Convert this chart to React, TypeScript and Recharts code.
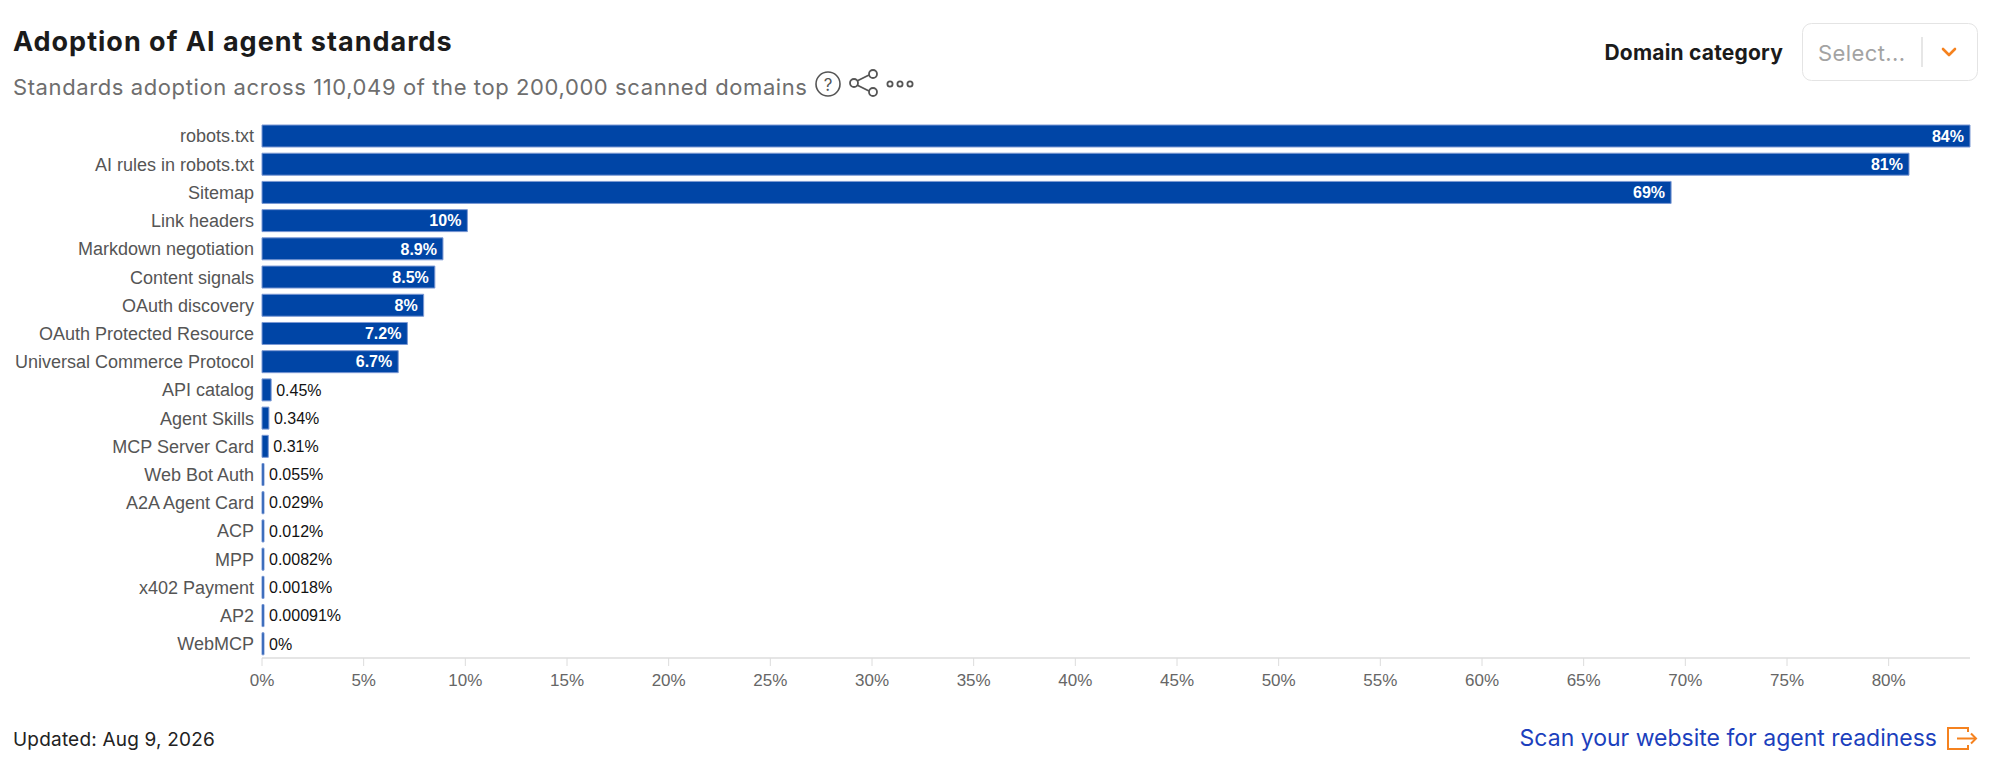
import React from 'react';
import { BarChart, Bar, XAxis, YAxis, LabelList } from 'recharts';

const STANDARDS = [
  'robots.txt',
  'AI rules in robots.txt',
  'Sitemap',
  'Link headers',
  'Markdown negotiation',
  'Content signals',
  'OAuth discovery',
  'OAuth Protected Resource',
  'Universal Commerce Protocol',
  'API catalog',
  'Agent Skills',
  'MCP Server Card',
  'Web Bot Auth',
  'A2A Agent Card',
  'ACP',
  'MPP',
  'x402 Payment',
  'AP2',
  'WebMCP',
];

// adoption share in percent
const ADOPTION = [84, 81, 69.3, 10.1, 8.9, 8.5, 7.95, 7.15, 6.7, 0.45, 0.34, 0.31, 0.055, 0.029, 0.012, 0.0082, 0.0018, 0.00091, 0];

const VALUE_LABELS = ['84%', '81%', '69%', '10%', '8.9%', '8.5%', '8%', '7.2%', '6.7%', '0.45%', '0.34%', '0.31%', '0.055%', '0.029%', '0.012%', '0.0082%', '0.0018%', '0.00091%', '0%'];

const X_TICKS = [0, 5, 10, 15, 20, 25, 30, 35, 40, 45, 50, 55, 60, 65, 70, 75, 80];

const data = STANDARDS.map((name, i) => ({ name, value: ADOPTION[i], label: VALUE_LABELS[i] }));

const CHART_FONT = '"Liberation Sans", Arial, Helvetica, sans-serif';
const UI_FONT = 'Inter, "Noto Sans", sans-serif';

const ValueLabel = (props: any) => {
  const { x, y, width, height, value } = props;
  const inside = width > 60;
  return (
    <text
      x={inside ? x + width - 6 : x + width + 5}
      y={y + height / 2}
      dy="0.36em"
      textAnchor={inside ? 'end' : 'start'}
      fill={inside ? '#ffffff' : '#111111'}
      fontWeight={inside ? 700 : 400}
      fontSize={16}
      fontFamily={CHART_FONT}
    >
      {value}
    </text>
  );
};

const Header = () => (
  <svg width={2000} height={766} style={{ position: 'absolute', left: 0, top: 0, pointerEvents: 'none' }}>
    <text x={13} y={51} fontFamily={UI_FONT} fontWeight={700} fontSize={27} letterSpacing={1} fill="#1b1b1b">
      Adoption of AI agent standards
    </text>
    <text x={13} y={95} fontFamily={UI_FONT} fontSize={22} letterSpacing={0.6} fill="#6e6e6e">
      Standards adoption across 110,049 of the top 200,000 scanned domains
    </text>

    {/* help, share and more icons */}
    <circle cx={828} cy={84} r={12} fill="none" stroke="#555" strokeWidth={1.6} />
    <text x={828} y={91} textAnchor="middle" fontFamily={UI_FONT} fontSize={17} fill="#555">?</text>
    <g fill="none" stroke="#555" strokeWidth={1.8}>
      <line x1={857} y1={81} x2={869} y2={75} />
      <line x1={857} y1={85} x2={869} y2={91} />
      <circle cx={854} cy={83} r={4} />
      <circle cx={873} cy={74} r={4} />
      <circle cx={873} cy={92} r={4} />
      <circle cx={890} cy={84} r={2.6} />
      <circle cx={900} cy={84} r={2.6} />
      <circle cx={910} cy={84} r={2.6} />
    </g>

    {/* domain category select */}
    <text x={1783} y={60} textAnchor="end" fontFamily={UI_FONT} fontWeight={700} fontSize={21} letterSpacing={0.2} fill="#1b1b1b">
      Domain category
    </text>
    <rect x={1802.5} y={23.5} width={175} height={57} rx={9} fill="#fff" stroke="#e4e4e4" />
    <text x={1818} y={61} fontFamily={UI_FONT} fontSize={22} letterSpacing={0.4} fill="#a3a3a3">Select...</text>
    <line x1={1922} y1={37} x2={1922} y2={67} stroke="#dedede" strokeWidth={1.5} />
    <polyline points="1943,49 1949,55 1955,49" fill="none" stroke="#f5821f" strokeWidth={2.6} strokeLinecap="round" strokeLinejoin="round" />

    {/* footer */}
    <text x={13} y={746} fontFamily={UI_FONT} fontSize={19} letterSpacing={0.2} fill="#222">
      Updated: Aug 9, 2026
    </text>
    <text x={1937} y={746} textAnchor="end" fontFamily={UI_FONT} fontSize={23} fill="#1c3fbd">
      Scan your website for agent readiness
    </text>
    <g fill="none" stroke="#f5821f" strokeWidth={2}>
      <polyline points="1968,732 1968,728 1948,728 1948,749 1968,749 1968,745" />
      <line x1={1957} y1={738.5} x2={1976} y2={738.5} />
      <polyline points="1971,733.5 1976,738.5 1971,743.5" />
    </g>
  </svg>
);

export default function App() {
  return (
    <div style={{ position: 'absolute', left: 0, top: 0, width: 2000, height: 766, background: '#fff', overflow: 'hidden' }}>
      <div style={{ position: 'absolute', left: 0, top: 0 }}>
        <BarChart
          width={2000}
          height={708}
          data={data}
          layout="vertical"
          margin={{ top: 122, right: 30, bottom: 0, left: 0 }}
        >
          <XAxis
            type="number"
            domain={[0, 84]}
            ticks={X_TICKS}
            tickFormatter={(v) => `${v}%`}
            axisLine={{ stroke: '#dcdcdc', strokeWidth: 1.5 }}
            tickLine={{ stroke: '#dcdcdc' }}
            tickSize={8}
            tickMargin={8}
            height={50}
            tick={{ fontSize: 17, fill: '#666', fontFamily: CHART_FONT }}
          />
          <YAxis
            type="category"
            dataKey="name"
            width={262}
            interval={0}
            axisLine={false}
            tickLine={false}
            tick={{ fontSize: 18, fill: '#555', fontFamily: CHART_FONT }}
          />
          <Bar
            dataKey="value"
            barSize={22}
            fill="#0045a6"
            stroke="#7c99d4"
            strokeWidth={1}
            minPointSize={2}
            isAnimationActive={false}
          >
            <LabelList dataKey="label" content={<ValueLabel />} />
          </Bar>
        </BarChart>
      </div>
      <Header />
    </div>
  );
}
